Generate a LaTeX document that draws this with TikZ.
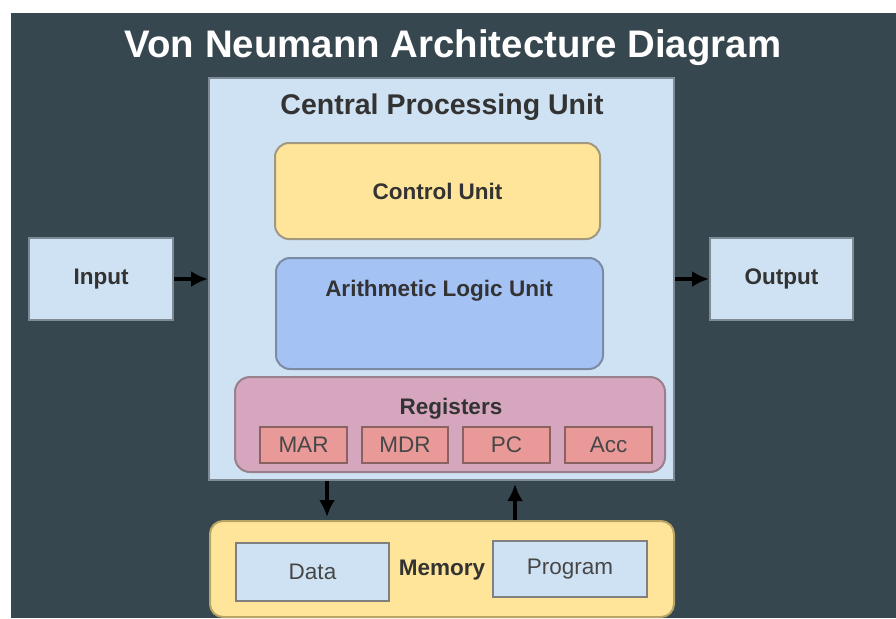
\documentclass[tikz,border=0pt]{standalone}
\usepackage{fontspec}
\setmainfont{Liberation Sans}
\usetikzlibrary{arrows.meta}
\definecolor{bgdark}{HTML}{37474F}
\definecolor{lblue}{HTML}{CFE2F3}
\definecolor{lyellow}{HTML}{FFE599}
\definecolor{mblue}{HTML}{A4C2F4}
\definecolor{lpink}{HTML}{D5A6BD}
\definecolor{lred}{HTML}{EA9999}
\definecolor{txt}{HTML}{333333}
\definecolor{bgray}{HTML}{7F8A94}
\definecolor{ygray}{HTML}{A09880}
\definecolor{agray}{HTML}{7D8AA3}
\definecolor{pgray}{HTML}{9A7F8C}
\definecolor{rgray}{HTML}{8A6262}
\definecolor{mgray}{HTML}{B8A564}
\tikzset{
  box/.style={draw, line width=2pt, inner sep=0pt, align=center, font=\fontsize{22.5}{26}\selectfont\bfseries, text=txt},
  plainbox/.style={box, font=\fontsize{22.5}{26}\selectfont, text=txt!90},
  arr/.style={-{Latex[length=17pt,width=16pt]}, line width=3.4pt, black},
}
\begin{document}
\begin{tikzpicture}[x=1pt,y=-1pt]
\useasboundingbox (0,0) rectangle (896,618);
\fill[white] (0,0) rectangle (896,618);
\fill[bgdark] (11,13) rectangle (896,618);
\node[text=white, font=\fontsize{38.4}{44}\selectfont\bfseries] (title) at (453,48) {Von Neumann Architecture Diagram};
% CPU
\node[box, draw=bgray, fill=lblue, minimum width=465pt, minimum height=402pt] (cpu) at (441.5,279) {};
\node[font=\fontsize{28.5}{32}\selectfont\bfseries, text=txt] (cpulbl) at (442,107) {Central Processing Unit};
\node[box, draw=ygray, fill=lyellow, rounded corners=14pt, minimum width=325pt, minimum height=96pt] (cu) at (437.5,191) {Control Unit};
\node[box, draw=agray, fill=mblue, rounded corners=14pt, minimum width=327pt, minimum height=111pt] (alu) at (439.5,313.5) {};
\node[font=\fontsize{22.5}{26}\selectfont\bfseries, text=txt] (alulbl) at (439,291) {Arithmetic Logic Unit};
\node[box, draw=pgray, fill=lpink, rounded corners=15pt, minimum width=430pt, minimum height=95pt] (reg) at (450,424.5) {};
\node[font=\fontsize{22.5}{26}\selectfont\bfseries, text=txt] (reglbl) at (451,409) {Registers};
\node[plainbox, draw=rgray, fill=lred, minimum width=87pt, minimum height=36pt] (mar) at (303.5,445) {MAR};
\node[plainbox, draw=rgray, fill=lred, minimum width=86pt, minimum height=36pt] (mdr) at (405,445) {MDR};
\node[plainbox, draw=rgray, fill=lred, minimum width=87pt, minimum height=36pt] (pc) at (506.5,445) {PC};
\node[plainbox, draw=rgray, fill=lred, minimum width=87pt, minimum height=36pt] (acc) at (608.5,445) {Acc};
% Input / Output
\node[box, draw=bgray, fill=lblue, minimum width=144pt, minimum height=82pt] (in) at (101,279) {Input};
\node[box, draw=bgray, fill=lblue, minimum width=143pt, minimum height=82pt] (out) at (781.5,279) {Output};
% Memory
\node[box, draw=mgray, fill=lyellow, rounded corners=13pt, minimum width=464pt, minimum height=96pt] (mem) at (442,569) {};
\node[font=\fontsize{22.5}{26}\selectfont\bfseries, text=txt] (memlbl) at (442,570) {Memory};
\node[plainbox, draw=gray, fill=lblue, minimum width=153pt, minimum height=58pt] (data) at (312.5,572) {Data};
\node[plainbox, draw=gray, fill=lblue, minimum width=154pt, minimum height=56pt] (prog) at (570,569) {Program};
% arrows
\draw[arr] (in.east) -- (in.east -| cpu.west);
\draw[arr] (cpu.east |- out.west) -- (out.west);
\coordinate (dn) at (327,481);
\coordinate (up) at (515,481);
\draw[arr, shorten >=3pt] (dn) -- (dn |- mem.north);
\draw[arr, shorten >=3pt] (up |- mem.north) -- (up);
\end{tikzpicture}
\end{document}
